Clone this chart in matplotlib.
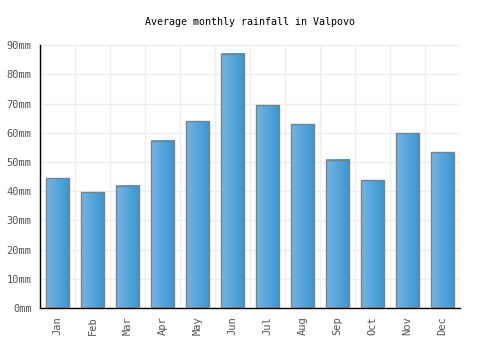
import numpy as np
import matplotlib.pyplot as plt
from matplotlib.colors import LinearSegmentedColormap

months = ['Jan', 'Feb', 'Mar', 'Apr', 'May', 'Jun',
          'Jul', 'Aug', 'Sep', 'Oct', 'Nov', 'Dec']
rainfall = [44.5, 39.7, 41.8, 57.2, 64.0, 87.0,
            69.5, 63.0, 50.7, 43.8, 59.9, 53.4]
yticks = [0, 10, 20, 30, 40, 50, 60, 70, 80, 90]

plt.rcParams['font.family'] = ['DejaVu Sans Mono']

fig = plt.figure(figsize=(5, 3.5), dpi=100)
ax = fig.add_axes([0.08, 0.12, 0.84, 0.751])

x = np.arange(len(months))
width = 0.68
cmap = LinearSegmentedColormap.from_list('bar', ['#74b4e6', '#3996cf'])
grad = np.linspace(0, 1, 64).reshape(1, -1)

bars = ax.bar(x, rainfall, width, facecolor='none', edgecolor='#808080',
              linewidth=1, zorder=3)
for b in bars:
    x0, w, h = b.get_x(), b.get_width(), b.get_height()
    ax.imshow(grad, cmap=cmap, aspect='auto', extent=[x0, x0 + w, 0, h],
              zorder=2, interpolation='bicubic')

ax.set_xlim(-0.5, len(months) - 0.5)
ax.set_ylim(0, 90)
ax.set_xticks(x)
ax.set_xticklabels(months, rotation=90, fontsize=7.5, color='#555555')
ax.set_xticks(np.arange(-0.5, len(months)), minor=True)
ax.set_yticks(yticks)
ax.set_yticklabels([f'{v}mm' for v in yticks], fontsize=7.5, color='#555555')
ax.tick_params(which='both', length=0, pad=6)

ax.grid(True, which='minor', axis='x', color='#eeeeee', linewidth=1, zorder=0)
ax.grid(True, which='major', axis='y', color='#eeeeee', linewidth=1, zorder=0)
ax.set_axisbelow(True)

for s in ['top', 'right']:
    ax.spines[s].set_visible(False)
for s in ['left', 'bottom']:
    ax.spines[s].set_color('black')
    ax.spines[s].set_linewidth(1)

fig.text(0.5, 0.937, 'Average monthly rainfall in Valpovo',
         ha='center', va='center', fontsize=7.2, color='black')

fig.savefig('out.png', dpi=100)
